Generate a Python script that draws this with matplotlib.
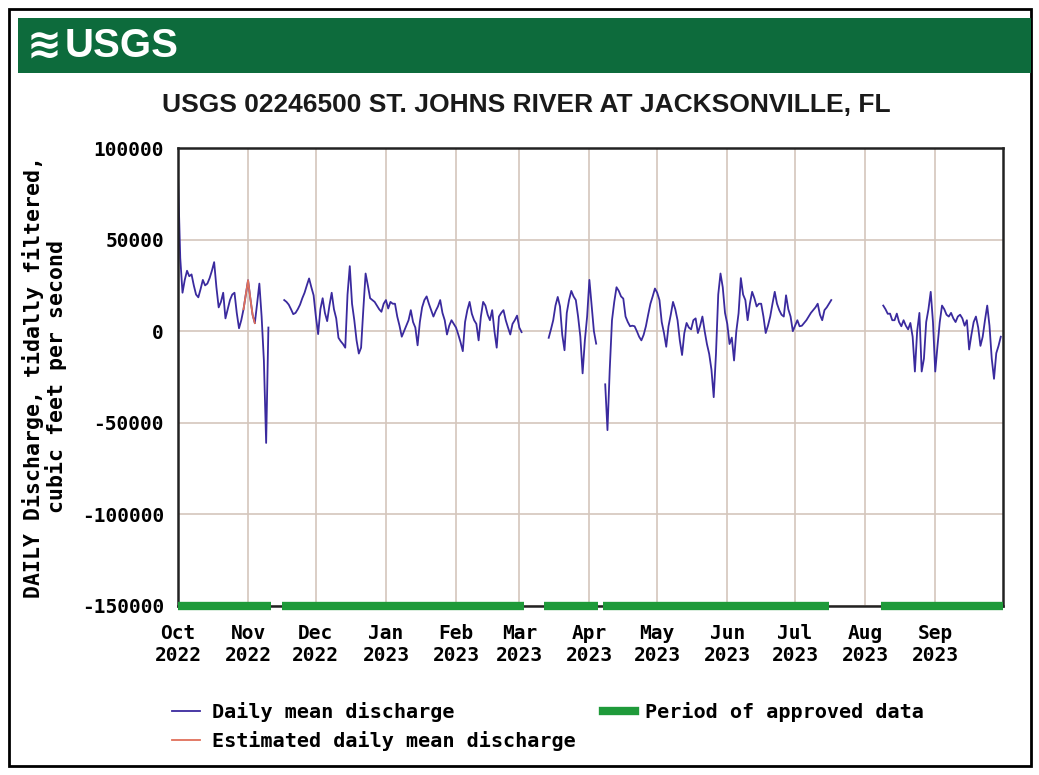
import matplotlib
matplotlib.use("Agg")
import matplotlib.pyplot as plt
from matplotlib.patches import Rectangle
from matplotlib.lines import Line2D
import pandas as pd

# daily mean discharge, cfs (one value per day)
seg1_start = "2022-10-01"
seg1_values = [85000, 40000, 21000, 28000, 33000, 30000, 31000, 25000, 20000, 18500,
               23000, 28000, 25000, 26000, 29000, 33000, 37700, 24000, 13000, 16000,
               21000, 7000, 12000, 17000, 20000, 21000, 10000, 1600, 6000, 12000,
               20000, 27800, 18000, 9000, 4400, 15000, 26000, 8000, -16000, -61000,
               2000]
# estimated part of the first segment
est_start = "2022-10-30"
est_values = [12000, 20000, 27800, 18000, 9000, 4400]

seg2_start = "2022-11-17"
seg2_values = [17000, 16000, 14500, 12000, 9300, 10000, 12000, 14500, 18000, 21000,
               25000, 28800, 24000, 19600, 8000, -1600, 12000, 18000, 10000, 5500,
               14000, 21000, 12000, 7000, -3600, -5500, -7000, -9000, 20000, 35500,
               15000, 6000, -5000, -12200, -9000, 12000, 31500, 25000, 18000, 17000,
               16000, 14000, 12000, 10600, 15000, 17000, 12400, 16000, 15000, 15000,
               8000, 3000, -3000, 0, 3000, 6000, 11500, 5000, 2000, -7700,
               5000, 13000, 17000, 19000, 15000, 11500, 8000, 11000, 13500, 17000,
               10000, 6000, -1800, 3000, 6000, 4000, 2000, -1800, -6000, -10900,
               5000, 11500, 16000, 9500, 6000, 4000, -5000, 8000, 16000, 14000,
               9000, 6000, 11500, 0, -9000, 8000, 10000, 11500, 6000, 2000,
               -1800, 4000, 6000, 8500, 2000, -500]

seg3_start = "2023-03-14"
seg3_values = [-3600, 1000, 6000, 14000, 18700, 13500, -2000, -10400, 10000, 17000,
               22000, 19000, 17000, 8000, -3000, -23000, -5000, 8000, 28000, 14000,
               0, -6800]

seg4_start = "2023-04-08"
seg4_values = [-29000, -54000, -21000, 6000, 16000, 24000, 22000, 19000, 17800, 8000,
               5000, 2700, 3000, 2700, 0, -3000, -5000, -2000, 2700, 9000,
               15000, 19000, 23300, 21000, 17000, 5000, -1000, -8500, 2700, 9000,
               16000, 12000, 6000, -5000, -13000, -1000, 4500, 2000, 1000, 6000,
               7000, -1000, 3000, 8000, 0, -7000, -12400, -21000, -36000, -12400,
               20000, 31500, 24000, 10000, 4000, -7000, -3500, -16000, 0, 9800,
               29000, 20000, 17000, 6000, 15000, 21500, 18000, 13500, 15000, 15000,
               8000, -1000, 3000, 8000, 15000, 21500, 15000, 11500, 9000, 8000,
               19600, 12000, 8000, 0, 3000, 6000, 2700, 3000, 4500, 6000,
               8000, 10000, 11500, 13000, 15000, 9000, 6000, 11500, 13000, 15000,
               17000]

seg5_start = "2023-08-09"
seg5_values = [14000, 12000, 9500, 9600, 6000, 6000, 9600, 5000, 2700, 6000,
               3000, 1000, 4500, -3000, -22000, 0, 10000, -22000, -15000, 5000,
               12000, 21500, 5000, -22000, -8000, 5000, 14000, 12000, 9000, 8000,
               10000, 7000, 5000, 8000, 9000, 7000, 3000, 6000, -10000, -2000,
               5000, 8000, 2000, -8000, -3000, 6000, 14000, 3000, -15000, -26000,
               -12000, -8000, -3000]

# periods of approved data (start, end)
approved_start = ["2022-10-01", "2022-11-16", "2023-03-12", "2023-04-07", "2023-08-08"]
approved_end = ["2022-11-11", "2023-03-03", "2023-04-05", "2023-07-16", "2023-10-01"]

title = "USGS 02246500 ST. JOHNS RIVER AT JACKSONVILLE, FL"
ylabel = "DAILY Discharge, tidally filtered,\ncubic feet per second"
yticks = [100000, 50000, 0, -50000, -100000, -150000]

blue = "#3a2a9e"
red = "#e0705a"
green = "#1f9a3a"
grid_col = "#d4c6bc"
mono = ["DejaVu Sans Mono"]
sans = ["Liberation Sans", "DejaVu Sans"]

fig = plt.figure(figsize=(10.39, 7.75), dpi=100)

# outer frame and header band
fig.patches.append(Rectangle((0.009, 0.012), 0.983, 0.977, transform=fig.transFigure,
                             fill=False, edgecolor="black", linewidth=2))
fig.patches.append(Rectangle((0.017, 0.906), 0.975, 0.071, transform=fig.transFigure,
                             facecolor="#0d6b3c", edgecolor="none"))
fig.text(0.026, 0.941, "\u224b", color="white", fontsize=30, fontweight="bold",
         va="center", ha="left", family=["DejaVu Sans"])
fig.text(0.062, 0.941, "USGS", color="white", fontsize=29, fontweight="bold",
         va="center", ha="left", family=sans)
fig.text(0.507, 0.864, title, fontsize=19, fontweight="bold", ha="center", va="center",
         color="#1a1a1a", family=sans)

ax = fig.add_axes([0.1713, 0.2181, 0.7941, 0.5909])

segments = [(seg1_start, seg1_values), (seg2_start, seg2_values),
            (seg3_start, seg3_values), (seg4_start, seg4_values),
            (seg5_start, seg5_values)]
for start, vals in segments:
    d = pd.date_range(start, periods=len(vals), freq="D")
    ax.plot(d, vals, color=blue, linewidth=1.3)
d_est = pd.date_range(est_start, periods=len(est_values), freq="D")
ax.plot(d_est, est_values, color=red, linewidth=1.3)

for s, e in zip(approved_start, approved_end):
    ax.plot([pd.Timestamp(s), pd.Timestamp(e)], [-150000, -150000], color=green,
            linewidth=6, solid_capstyle="butt", clip_on=False, zorder=5)

ax.set_xlim(pd.Timestamp("2022-10-01"), pd.Timestamp("2023-10-01"))
ax.set_ylim(-150000, 100000)
ax.set_yticks(yticks)
ax.set_yticklabels([str(v) for v in yticks], family=mono, fontsize=14, fontweight="bold")

months = pd.date_range("2022-10-01", "2023-09-01", freq="MS")
ax.set_xticks(months)
ax.set_xticklabels([m.strftime("%b\n%Y") for m in months], family=mono, fontsize=14,
                   fontweight="bold", linespacing=1.2)
ax.tick_params(axis="x", length=0, pad=13)
ax.tick_params(axis="y", length=0, pad=10)
ax.grid(True, color=grid_col, linewidth=1.2)
ax.set_axisbelow(True)
for sp in ax.spines.values():
    sp.set_linewidth(1.8)
    sp.set_color("#222222")

ax.set_ylabel(ylabel, family=mono, fontsize=15.5, fontweight="bold", linespacing=1.05)
ax.yaxis.set_label_coords(-0.135, 0.5)

# legend
h1 = Line2D([], [], color=blue, linewidth=1.3)
h2 = Line2D([], [], color=red, linewidth=1.3)
h3 = Line2D([], [], color=green, linewidth=6)
legprop = {"family": mono, "size": 14.5, "weight": "bold"}
fig.legend([h1, h2], ["Daily mean discharge", "Estimated daily mean discharge"],
           loc="upper left", bbox_to_anchor=(0.1655, 0.094), frameon=False,
           prop=legprop, handlelength=1.4, handletextpad=0.6, labelspacing=0.45,
           borderpad=0, borderaxespad=0)
fig.legend([h3], ["Period of approved data"], loc="upper left",
           bbox_to_anchor=(0.580, 0.094), frameon=False, prop=legprop,
           handlelength=1.6, handletextpad=0.5, borderpad=0, borderaxespad=0)

fig.savefig("out.png", dpi=100)
